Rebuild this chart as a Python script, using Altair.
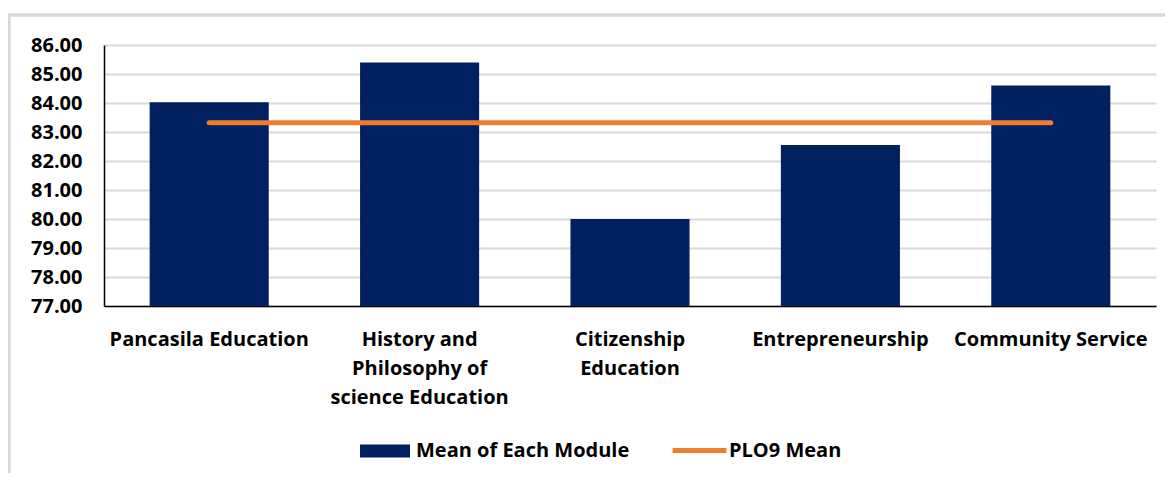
import altair as alt
import pandas as pd

# ---- data ----
modules = [
    "Pancasila Education",
    "History and|Philosophy of|science Education",
    "Citizenship|Education",
    "Entrepreneurship",
    "Community Service",
]
module_means = [84.03, 85.40, 80.00, 82.55, 84.60]
plo9_mean = [83.32, 83.32, 83.32, 83.32, 83.32]
y_ticks = [77, 78, 79, 80, 81, 82, 83, 84, 85, 86]

bar_series = "Mean of Each Module"
line_series = "PLO9 Mean"

df = pd.DataFrame({
    "module": modules,
    "mean": module_means,
    "plo9": plo9_mean,
    "bar_s": [bar_series] * len(modules),
    "line_s": [line_series] * len(modules),
})

FONT = "Open Sans"
FS = 20
NAVY = "#002060"
ORANGE = "#ED7D31"

x_axis = alt.Axis(
    title=None,
    labelAngle=0,
    labelExpr="split(datum.label, '|')",
    labelFont=FONT,
    labelFontWeight="bold",
    labelFontSize=FS,
    labelColor="#000000",
    labelLineHeight=29,
    labelPadding=23,
    labelBaseline="top",
    labelOverlap=False,
    ticks=False,
    domainColor="#000000",
    domainWidth=1.5,
    grid=False,
    labelLimit=400,
)

y_axis = alt.Axis(
    title=None,
    values=y_ticks,
    format=".2f",
    labelFont=FONT,
    labelFontWeight="bold",
    labelFontSize=FS,
    labelColor="#000000",
    labelPadding=22,
    labelOverlap=False,
    ticks=False,
    domainColor="#000000",
    domainWidth=1.5,
    gridColor="#D9D9D9",
    gridWidth=2,
)

x_scale = alt.Scale(paddingInner=0.434, paddingOuter=0.217)
y_scale = alt.Scale(domain=[77, 86], nice=False, zero=False)

bars = alt.Chart(df).mark_bar(clip=True).encode(
    x=alt.X("module:N", sort=modules, scale=x_scale, axis=x_axis),
    y=alt.Y("mean:Q", scale=y_scale, axis=y_axis),
    fill=alt.Fill(
        "bar_s:N",
        scale=alt.Scale(domain=[bar_series], range=[NAVY]),
        legend=alt.Legend(
            title=None,
            orient="none",
            legendX=256,
            legendY=381,
            symbolType="M-1,-0.26H1V0.26H-1Z",
            symbolSize=2500,
            symbolStrokeWidth=0,
            labelFont=FONT,
            labelFontWeight="bold",
            labelFontSize=FS,
            labelColor="#000000",
            labelOffset=6,
            labelLimit=400,
        ),
    ),
)

line = alt.Chart(df).mark_line(strokeWidth=5, strokeCap="round").encode(
    x=alt.X("module:N", sort=modules, scale=x_scale, axis=x_axis),
    y=alt.Y("plo9:Q", scale=y_scale, axis=y_axis),
    stroke=alt.Stroke(
        "line_s:N",
        scale=alt.Scale(domain=[line_series], range=[ORANGE]),
        legend=alt.Legend(
            title=None,
            orient="none",
            legendX=566,
            legendY=376,
            symbolType="stroke",
            symbolSize=2900,
            symbolStrokeWidth=5,
            labelFont=FONT,
            labelFontWeight="bold",
            labelFontSize=FS,
            labelColor="#000000",
            labelOffset=0,
            labelLimit=400,
        ),
    ),
)

# light grey chart-area frame (decoration)
frame_left = alt.Chart(df).mark_rule(color="#D9D9D9", strokeWidth=2.5).encode(
    x=alt.value(-95), y=alt.value(-30), y2=alt.value(440)
)
frame_top = alt.Chart(df).mark_rule(color="#D9D9D9", strokeWidth=2.5).encode(
    x=alt.value(-96), x2=alt.value(1075), y=alt.value(-30)
)

chart = (
    alt.layer(frame_left, frame_top, bars, line)
    .resolve_scale(fill="independent", stroke="independent")
    .properties(
        width=1052,
        height=261,
        autosize=alt.AutoSizeParams(type="none"),
        padding={"left": 96, "top": 37, "right": 9, "bottom": 167},
        background="white",
    )
    .configure_view(stroke=None)
)

chart.save("out.html", embed_options={"renderer": "svg", "actions": False})
